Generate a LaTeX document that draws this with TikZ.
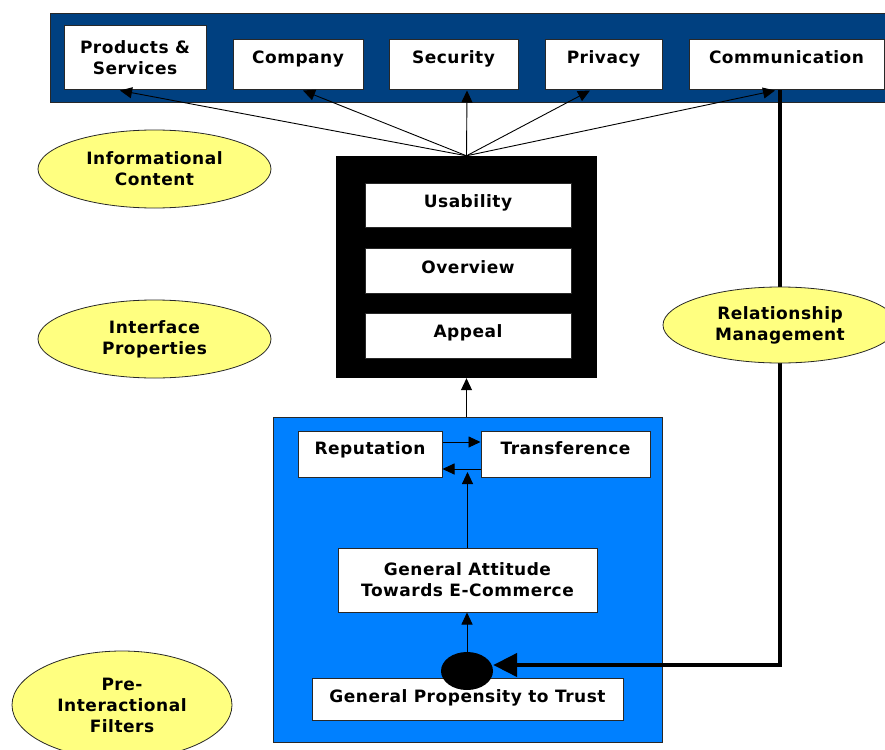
\documentclass[tikz,border=0pt]{standalone}
\usepackage{fontspec}
\usepackage{tikz}
\usetikzlibrary{arrows.meta,calc,shapes.geometric}
\newfontfamily\diagfont{DejaVu Sans}[LetterSpace=3]
\definecolor{barnavy}{RGB}{0,64,128}
\definecolor{prefblue}{RGB}{0,128,255}
\definecolor{tagyellow}{RGB}{255,255,128}
\definecolor{edgegray}{RGB}{40,40,40}

\begin{document}
\begin{tikzpicture}[x=1pt,y=-1pt,
  txt/.style={font=\diagfont\bfseries\fontsize{17}{21}\selectfont, align=center},
  wbox/.style={txt, draw=edgegray, line width=1pt, fill=white, inner sep=0pt},
  lift/.style={text height=13pt, text depth=#1},
  tag/.style={txt, ellipse, draw=edgegray, line width=0.8pt, fill=tagyellow, inner sep=0pt},
  thin arrow/.style={-{Triangle[length=12pt,width=11pt]}, line width=0.9pt}]
  \useasboundingbox (0,0) rectangle (885,749);
  \fill[white] (0,0) rectangle (885,749);
  \clip (0,0) rectangle (885,749);
  % Informational content bar
  \node[fill=barnavy, draw=edgegray, line width=1pt, minimum width=840pt, minimum height=89pt, inner sep=0pt] (bar) at (470,58.5) {};
  \node[wbox, minimum width=142pt, minimum height=64pt] (prod) at (135,58) {Products \&\\Services};
  \node[wbox, lift=15pt, minimum width=130pt, minimum height=50pt] (comp) at (298,65) {Company};
  \node[wbox, lift=15pt, minimum width=129pt, minimum height=50pt] (secu) at (453.5,65) {Security};
  \node[wbox, lift=15pt, minimum width=117pt, minimum height=50pt] (priv) at (603.5,65) {Privacy};
  \node[wbox, lift=15pt, minimum width=195pt, minimum height=50pt] (comm) at (786.5,65) {Communication};
  % Interface properties
  \node[fill=black, minimum width=261pt, minimum height=222pt, inner sep=0pt] (iface) at (466.5,267) {};
  \node[wbox, lift=9pt, minimum width=206pt, minimum height=44pt] (usab) at (468,205) {Usability};
  \node[wbox, lift=8pt, minimum width=206pt, minimum height=45pt] (over) at (468,270.5) {Overview};
  \node[wbox, lift=9pt, minimum width=206pt, minimum height=45pt] (appe) at (468,335.5) {Appeal};
  % Pre-interactional filters
  \node[fill=prefblue, draw=edgegray, line width=1pt, minimum width=389pt, minimum height=325pt, inner sep=0pt] (pre) at (467.5,579.5) {};
  \node[wbox, lift=13pt, minimum width=144pt, minimum height=46pt] (repu) at (370,454) {Reputation};
  \node[wbox, lift=13pt, minimum width=169pt, minimum height=46pt] (tran) at (565.5,454) {Transference};
  \node[wbox, minimum width=259pt, minimum height=64pt] (gatt) at (467.5,580) {General Attitude\\Towards E-Commerce};
  \node[wbox, lift=7pt, minimum width=311pt, minimum height=42pt] (gpro) at (467.5,699) {General Propensity to Trust};
  \node[ellipse, fill=black, minimum width=52pt, minimum height=38pt, inner sep=0pt] (dot) at (467,671) {};
  % Connectors
  \coordinate (hub) at (iface.north);
  \foreach \tgt/\dx in {prod/-15, comp/5, secu/13.5, priv/-13.5, comm/-11.5}
    \draw[thin arrow] (hub) -- ($(\tgt.south)+(\dx,0)$);
  \draw[thin arrow] (iface.south |- pre.north) -- (iface.south);
  \draw[thin arrow] ($(repu.east)+(0,-12)$) -- ($(tran.west)+(0,-12)$);
  \draw[thin arrow] ($(tran.west)+(0,15)$) -- ($(repu.east)+(0,15)$);
  \coordinate (meet) at (467,472);
  \draw[thin arrow] (gatt.north) -- (gatt.north |- meet);
  \draw[thin arrow] (dot.north) -- (dot.north |- gatt.south);
  \coordinate (bend) at (780,665);
  \draw[line width=4.5pt, -{Triangle[length=24pt,width=23pt]}] (comm.south -| bend) -- (bend) -- (dot.east |- bend);
  % Labels
  \node[tag, minimum width=233pt, minimum height=78pt] (infotag) at (154.5,169) {Informational\\Content};
  \node[tag, minimum width=233pt, minimum height=78pt] (ifacetag) at (154.5,339) {Interface\\Properties};
  \node[tag, minimum width=220pt, minimum height=108pt] (pretag) at (122,705) {Pre-\\Interactional\\Filters};
  \node[tag, minimum width=234pt, minimum height=76pt] (reltag) at (780,325) {Relationship\\Management};
\end{tikzpicture}
\end{document}
